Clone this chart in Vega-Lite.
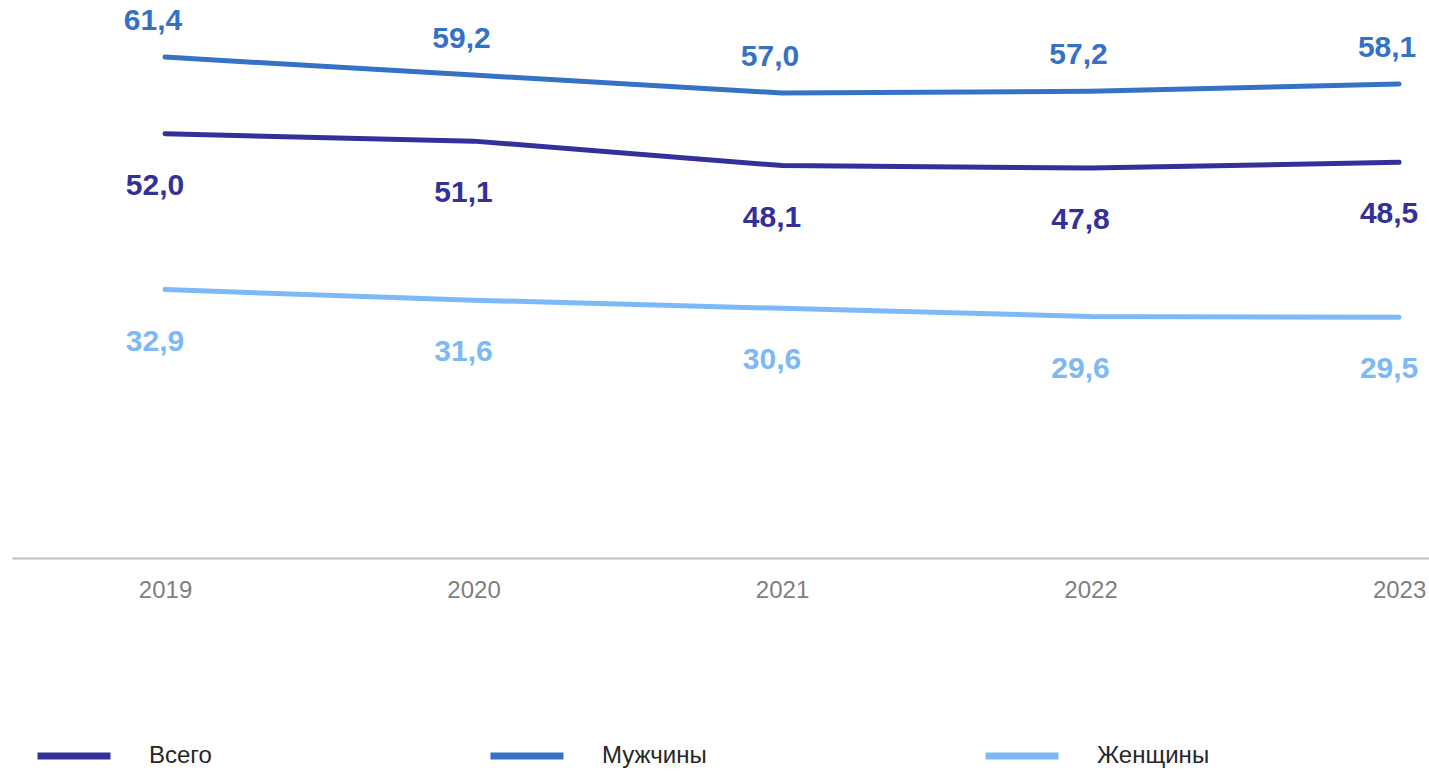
{
  "$schema": "https://vega.github.io/schema/vega-lite/v6.json",
  "autosize": "none",
  "padding": {"left": 12, "top": 0, "right": 0, "bottom": 213},
  "width": 1417,
  "height": 558,
  "background": "white",
  "config": {"view": {"stroke": null}, "font": "Liberation Sans"},
  "data": {"values": [
    {"year": 2019, "series": "Всего", "value": 52.0, "label": "52,0"},
    {"year": 2020, "series": "Всего", "value": 51.1, "label": "51,1"},
    {"year": 2021, "series": "Всего", "value": 48.1, "label": "48,1"},
    {"year": 2022, "series": "Всего", "value": 47.8, "label": "47,8"},
    {"year": 2023, "series": "Всего", "value": 48.5, "label": "48,5"},
    {"year": 2019, "series": "Мужчины", "value": 61.4, "label": "61,4"},
    {"year": 2020, "series": "Мужчины", "value": 59.2, "label": "59,2"},
    {"year": 2021, "series": "Мужчины", "value": 57.0, "label": "57,0"},
    {"year": 2022, "series": "Мужчины", "value": 57.2, "label": "57,2"},
    {"year": 2023, "series": "Мужчины", "value": 58.1, "label": "58,1"},
    {"year": 2019, "series": "Женщины", "value": 32.9, "label": "32,9"},
    {"year": 2020, "series": "Женщины", "value": 31.6, "label": "31,6"},
    {"year": 2021, "series": "Женщины", "value": 30.6, "label": "30,6"},
    {"year": 2022, "series": "Женщины", "value": 29.6, "label": "29,6"},
    {"year": 2023, "series": "Женщины", "value": 29.5, "label": "29,5"}
  ]},
  "encoding": {
    "x": {
      "field": "year", "type": "quantitative",
      "scale": {"domain": [2018.504, 2023.097], "nice": false, "zero": false},
      "axis": {
        "title": null, "values": [2019, 2020, 2021, 2022, 2023], "format": "d",
        "grid": false, "ticks": false, "domainColor": "#BFBFBF", "domainWidth": 2,
        "labelColor": "#7F7F7F", "labelFontSize": 24, "labelPadding": 20,
        "labelFont": "Liberation Sans", "labelFlush": false, "labelOverlap": false
      }
    },
    "y": {
      "field": "value", "type": "quantitative",
      "scale": {"domain": [0, 68.4], "nice": false},
      "axis": null
    },
    "color": {
      "field": "series", "type": "nominal",
      "scale": {"domain": ["Всего", "Мужчины", "Женщины"], "range": ["#33309A", "#3572C6", "#7DB8F7"]},
      "legend": {
        "title": null, "orient": "none", "direction": "horizontal",
        "legendX": 22, "legendY": 716,
        "symbolType": "stroke", "symbolSize": 5329, "symbolStrokeWidth": 7,
        "labelFont": "Liberation Sans", "labelFontSize": 24, "labelColor": "#262626",
        "labelOffset": 35, "columnPadding": 264, "labelLimit": 300
      }
    }
  },
  "layer": [
    {"mark": {"type": "line", "strokeWidth": 5, "strokeCap": "round"}},
    {
      "transform": [{"filter": "datum.series === 'Мужчины'"}],
      "mark": {"type": "text", "dy": -36, "dx": -12, "fontSize": 30, "fontWeight": "bold", "font": "Liberation Sans"},
      "encoding": {"text": {"field": "label"}}
    },
    {
      "transform": [{"filter": "datum.series === 'Всего'"}],
      "mark": {"type": "text", "dy": 52, "dx": -10, "fontSize": 30, "fontWeight": "bold", "font": "Liberation Sans"},
      "encoding": {"text": {"field": "label"}}
    },
    {
      "transform": [{"filter": "datum.series === 'Женщины'"}],
      "mark": {"type": "text", "dy": 52, "dx": -10, "fontSize": 30, "fontWeight": "bold", "font": "Liberation Sans"},
      "encoding": {"text": {"field": "label"}}
    }
  ]
}
